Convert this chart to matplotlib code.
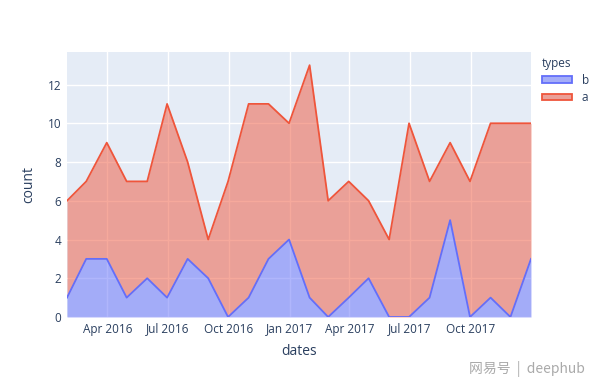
import pandas as pd
import matplotlib
matplotlib.use('Agg')
import matplotlib.pyplot as plt
import matplotlib.dates as mdates
from matplotlib.patches import Patch

dates = pd.date_range('2016-01-31', periods=24, freq='ME')
total = [6, 7, 9, 7, 7, 11, 8, 4, 7, 11, 11, 10, 13, 6, 7, 6, 4, 10, 7, 9, 7, 10, 10, 10]
b = [1, 3, 3, 1, 2, 1, 3, 2, 0, 1, 3, 4, 1, 0, 1, 2, 0, 0, 1, 5, 0, 1, 0, 3]
a = [t - v for t, v in zip(total, b)]

blue = '#636efa'
red = '#ef553b'
txt = '#2a3f5f'

plt.rcParams['font.family'] = ['Open Sans', 'DejaVu Sans']

fig = plt.figure(figsize=(6, 3.86), dpi=100)
ax = fig.add_axes([67 / 600, 1 - 317 / 386, 464 / 600, 265 / 386])
ax.set_facecolor('#e5ecf6')

b_top = b
a_top = [x + y for x, y in zip(a, b)]
ax.fill_between(dates, 0, b_top, color=blue, alpha=0.5, lw=0)
ax.plot(dates, b_top, color=blue, lw=1.3)
ax.fill_between(dates, b_top, a_top, color=red, alpha=0.5, lw=0)
ax.plot(dates, a_top, color=red, lw=1.3)

ax.set_xlim(dates[0], dates[-1])
ax.set_ylim(0, 13.68)
ax.set_yticks(range(0, 13, 2))
ax.xaxis.set_major_locator(mdates.MonthLocator(bymonth=[1, 4, 7, 10]))
ax.xaxis.set_major_formatter(mdates.DateFormatter('%b %Y'))
ax.grid(True, color='white', lw=1)
ax.set_axisbelow(True)
for s in ax.spines.values():
    s.set_visible(False)
ax.tick_params(length=0, labelsize=8.5, labelcolor=txt, pad=4)
ax.set_xlabel('dates', fontsize=10, color=txt, labelpad=6)
ax.set_ylabel('count', fontsize=10, color=txt, labelpad=8)

handles = [Patch(facecolor='#a4adf8', edgecolor=blue, lw=1.3, label='b'),
           Patch(facecolor='#eaa098', edgecolor=red, lw=1.3, label='a')]
leg = fig.legend(handles=handles, title='types', loc='upper left',
                 bbox_to_anchor=(0.895, 0.865), frameon=False, fontsize=8.5,
                 title_fontsize=8.5, handlelength=2.6, handleheight=0.5,
                 labelspacing=0.35, labelcolor=txt, alignment='left',
                 borderaxespad=0)
leg.get_title().set_color(txt)

fig.text(0.975, 0.045, '网易号  |  deephub', ha='right', va='center',
         fontsize=10, color='#aaaaaa',
         family=['Noto Sans CJK SC', 'DejaVu Sans'])

fig.savefig('out.png', dpi=100, facecolor='white')
